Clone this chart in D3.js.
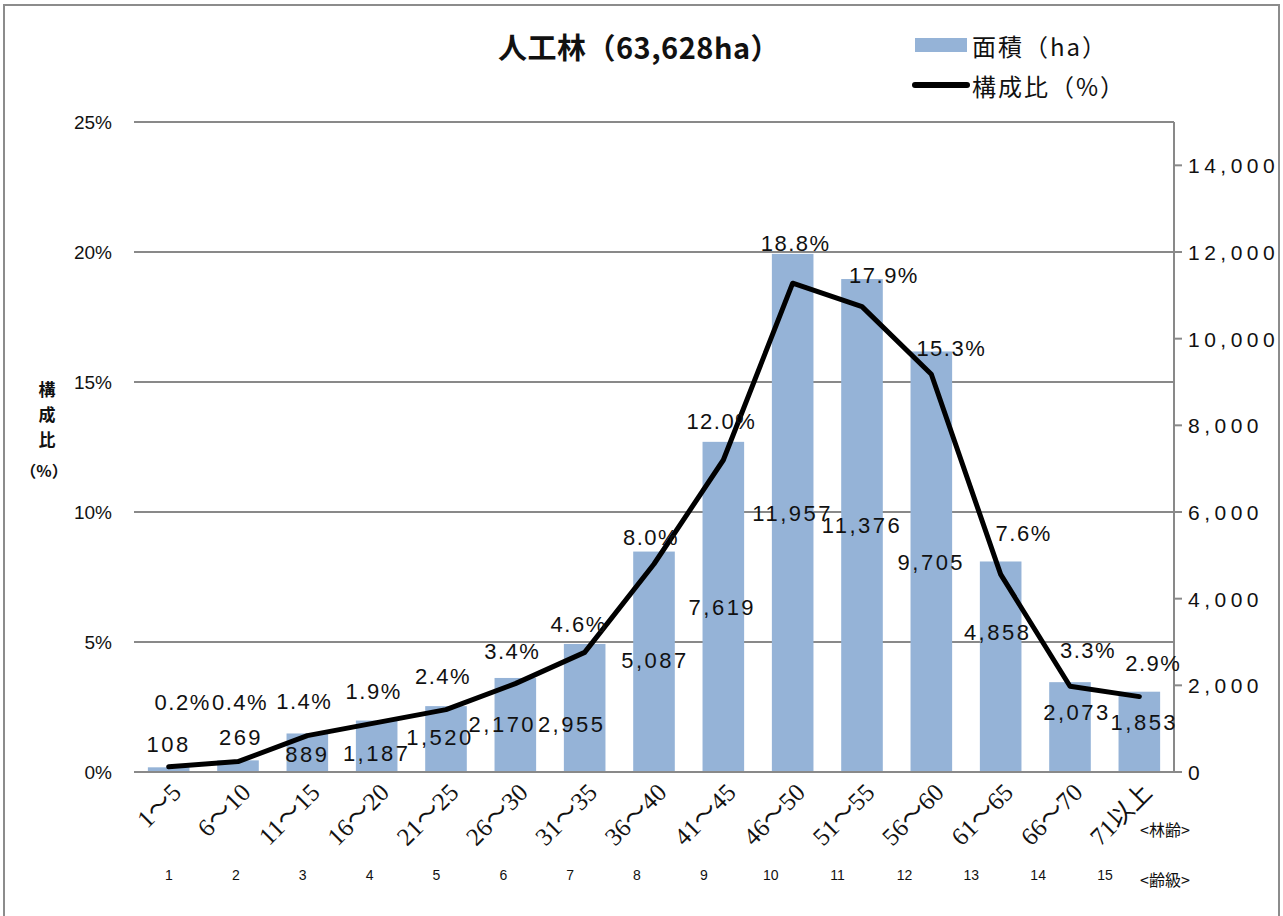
<html>
<head>
  <meta charset="utf-8">
  <title>人工林（63,628ha）</title>
  <script src="https://d3js.org/d3.v7.min.js"></script>
  <style>
    body { margin: 0; background: #fff; }
    svg text { font-family: "Liberation Sans", Arial, sans-serif; fill: #111; }
    .jp { font-family: "Noto Sans CJK JP", sans-serif; }
    .serif { font-family: "Liberation Serif", "Noto Sans CJK JP", serif; }
  </style>
</head>
<body>
<svg id="chart" width="1283" height="916"></svg>
<script>
  // DATA
  var ageLabels = ["1～5", "6～10", "11～15", "16～20", "21～25", "26～30", "31～35", "36～40",
                   "41～45", "46～50", "51～55", "56～60", "61～65", "66～70", "71以上"];
  var ageClasses = ["1", "2", "3", "4", "5", "6", "7", "8", "9", "10", "11", "12", "13", "14", "15"];
  var areaHa = [108, 269, 889, 1187, 1520, 2170, 2955, 5087, 7619, 11957, 11376, 9705, 4858, 2073, 1853];
  var sharePct = [0.2, 0.4, 1.4, 1.9, 2.4, 3.4, 4.6, 8.0, 12.0, 18.8, 17.9, 15.3, 7.6, 3.3, 2.9];
  var leftTicks = [0, 5, 10, 15, 20, 25];
  var rightTicks = [0, 2000, 4000, 6000, 8000, 10000, 12000, 14000];

  // label nudges (pixels) - the labels were hand placed in the original
  var areaLabelDx = [0, 3, 0, 0, -6, -13, -13, 1, -1, 0, 0, 0, -3, 7, 5];
  var areaLabelDy = [-26, -29, 1, 7, -2, -1, 16, -2, 0, 0, 0, 0, -35, -15, -10];
  var pctLabelDx = [14, 2, -3, -3, -3, -3, -6, -3, -2, 3, 22, 20, 23, 18, 14];
  var pctLabelDy = [-65, -60, -35, -32, -34, -33, -28, -27, -39, -40, -32, -26, -41, -36, -34];

  var svg = d3.select("#chart");
  var plotL = 134, plotR = 1174, plotT = 122, plotB = 772;
  var gridColor = "#898989";
  var barColor = "#95b3d7";

  var x = d3.scaleBand().domain(ageLabels).range([plotL, plotR]).paddingInner(0.4).paddingOuter(0.2);
  var yL = d3.scaleLinear().domain([0, 25]).range([plotB, plotT]);
  var yR = d3.scaleLinear().domain([0, 15000]).range([plotB, plotT]);
  var classX = d3.scalePoint().domain(ageClasses).range([169, 1105]);

  // outer frame
  svg.append("rect").attr("x", 4).attr("y", 5).attr("width", 1275).attr("height", 930)
    .attr("fill", "none").attr("stroke", "#8c8c8c").attr("stroke-width", 2);

  // gridlines
  svg.selectAll(".grid").data(leftTicks).enter().append("line")
    .attr("x1", plotL).attr("x2", plotR)
    .attr("y1", function(d) { return yL(d); }).attr("y2", function(d) { return yL(d); })
    .attr("stroke", gridColor).attr("stroke-width", 2);

  // left tick labels
  svg.selectAll(".ltick").data(leftTicks).enter().append("text")
    .attr("x", 112).attr("y", function(d) { return yL(d) + 7; })
    .attr("text-anchor", "end").style("font-size", "19px")
    .text(function(d) { return d + "%"; });

  // left axis title, stacked
  var ttl = ["構", "成", "比"];
  svg.selectAll(".ytitle").data(ttl).enter().append("text")
    .attr("class", "jp").attr("x", 47).attr("y", function(d, i) { return 396 + i * 25; })
    .attr("text-anchor", "middle").style("font-size", "17px").style("font-weight", "bold")
    .text(function(d) { return d; });
  svg.append("text").attr("class", "jp").attr("x", 44).attr("y", 477)
    .attr("text-anchor", "middle").style("font-size", "16px").style("font-weight", "bold")
    .text("（%）");

  // right axis
  svg.append("line").attr("x1", plotR).attr("x2", plotR).attr("y1", plotT).attr("y2", plotB)
    .attr("stroke", gridColor).attr("stroke-width", 2);
  svg.selectAll(".rtickmark").data(rightTicks).enter().append("line")
    .attr("x1", plotR).attr("x2", plotR + 8)
    .attr("y1", function(d) { return yR(d); }).attr("y2", function(d) { return yR(d); })
    .attr("stroke", gridColor).attr("stroke-width", 2);
  var fmt = d3.format(",");
  svg.selectAll(".rtick").data(rightTicks).enter().append("text")
    .attr("x", 1188).attr("y", function(d) { return yR(d) + 8; })
    .style("font-size", "21px").style("letter-spacing", "4.5px")
    .text(function(d) { return fmt(d); });

  // bars
  svg.selectAll(".bar").data(areaHa).enter().append("rect")
    .attr("x", function(d, i) { return x(ageLabels[i]); })
    .attr("width", x.bandwidth())
    .attr("y", function(d) { return yR(d); })
    .attr("height", function(d) { return plotB - yR(d); })
    .attr("fill", barColor);

  // baseline again on top of bars
  svg.append("line").attr("x1", plotL).attr("x2", plotR).attr("y1", plotB).attr("y2", plotB)
    .attr("stroke", gridColor).attr("stroke-width", 2);

  // line
  var line = d3.line()
    .x(function(d, i) { return x(ageLabels[i]) + x.bandwidth() / 2; })
    .y(function(d) { return yL(d); });
  svg.append("path").datum(sharePct).attr("d", line)
    .attr("fill", "none").attr("stroke", "#000").attr("stroke-width", 5)
    .attr("stroke-linejoin", "round").attr("stroke-linecap", "round");

  // area labels
  svg.selectAll(".alabel").data(areaHa).enter().append("text")
    .attr("x", function(d, i) { return x(ageLabels[i]) + x.bandwidth() / 2 + areaLabelDx[i]; })
    .attr("y", function(d, i) { return (yR(d) + plotB) / 2 + areaLabelDy[i]; })
    .attr("dy", "0.36em").attr("text-anchor", "middle")
    .style("font-size", "22px").style("letter-spacing", "2.5px")
    .text(function(d) { return fmt(d); });

  // percentage labels
  svg.selectAll(".plabel").data(sharePct).enter().append("text")
    .attr("x", function(d, i) { return x(ageLabels[i]) + x.bandwidth() / 2 + pctLabelDx[i]; })
    .attr("y", function(d, i) { return yL(d) + pctLabelDy[i]; })
    .attr("dy", "0.36em").attr("text-anchor", "middle")
    .style("font-size", "22px").style("letter-spacing", "1.5px")
    .text(function(d) { return d.toFixed(1) + "%"; });

  // x labels (age), rotated
  svg.selectAll(".xlabel").data(ageLabels).enter().append("text")
    .attr("class", "serif")
    .attr("transform", function(d) {
      return "translate(" + (x(d) + x.bandwidth() / 2 + 14) + ",794) rotate(-45)";
    })
    .attr("text-anchor", "end").style("font-size", "25px")
    .text(function(d) { return d; });

  // age class numbers
  svg.selectAll(".cls").data(ageClasses).enter().append("text")
    .attr("x", function(d) { return classX(d); }).attr("y", 880)
    .attr("text-anchor", "middle").style("font-size", "14px")
    .text(function(d) { return d; });

  svg.append("text").attr("class", "jp").attr("x", 1140).attr("y", 836)
    .style("font-size", "16px").text("<林齢>");
  svg.append("text").attr("class", "jp").attr("x", 1140).attr("y", 886)
    .style("font-size", "16px").text("<齢級>");

  // title
  svg.append("text").attr("class", "jp").attr("x", 639).attr("y", 59)
    .attr("text-anchor", "middle").style("font-size", "29px").style("font-weight", "bold")
    .style("letter-spacing", "0.5px")
    .text("人工林（63,628ha）");

  // legend
  svg.append("rect").attr("x", 915).attr("y", 38).attr("width", 52).attr("height", 14).attr("fill", barColor);
  svg.append("text").attr("class", "jp").attr("x", 972).attr("y", 56)
    .style("font-size", "24px").style("letter-spacing", "2px").text("面積（ha）");
  svg.append("line").attr("x1", 915).attr("x2", 967).attr("y1", 85).attr("y2", 85)
    .attr("stroke", "#000").attr("stroke-width", 6).attr("stroke-linecap", "round");
  svg.append("text").attr("class", "jp").attr("x", 972).attr("y", 96)
    .style("font-size", "24px").style("letter-spacing", "2px").text("構成比（%）");
</script>
</body>
</html>
